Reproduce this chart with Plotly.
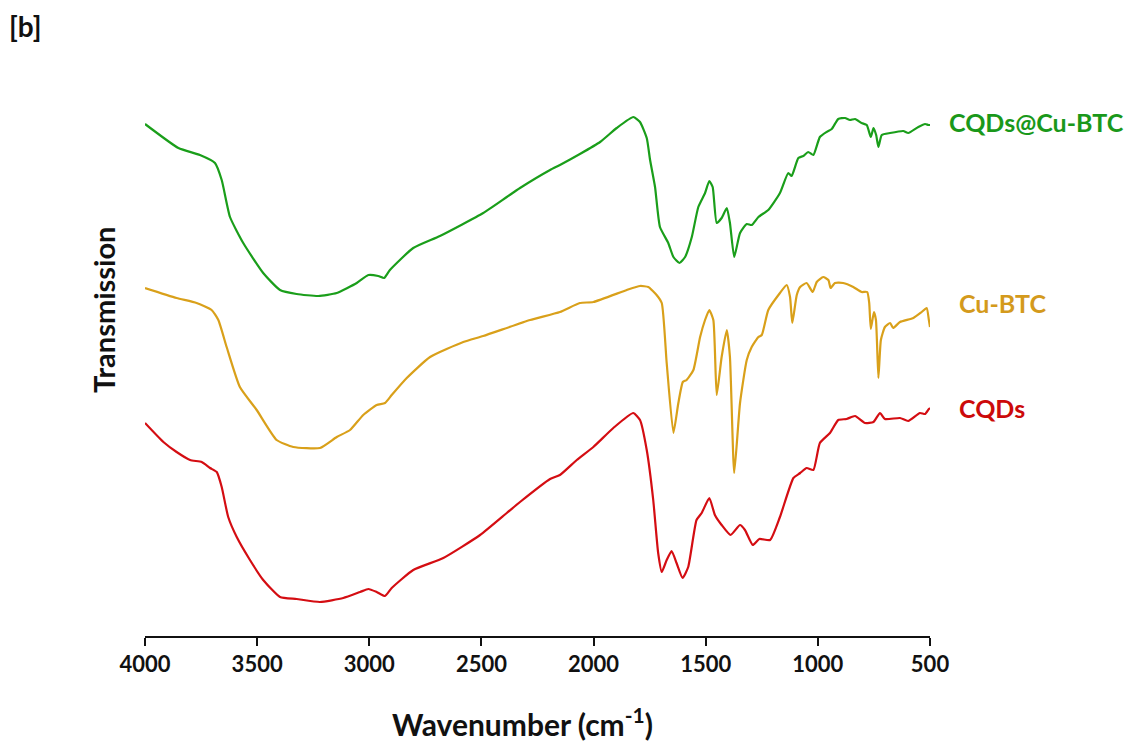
import plotly.graph_objects as go

# FTIR spectra (offset-stacked transmission, arbitrary units)
wn_composite = [4000, 3851, 3755, 3688, 3658, 3621, 3562, 3473, 3398, 3324, 3227, 3145, 3056, 3004,
                2960, 2934, 2908, 2804, 2685, 2492, 2387, 2328, 2194, 2150, 2061, 1971, 1897, 1823,
                1793, 1763, 1748, 1726, 1704, 1667, 1644, 1617, 1592, 1562, 1533, 1503, 1484, 1469,
                1451, 1429, 1406, 1392, 1373, 1347, 1317, 1295, 1265, 1221, 1169, 1132, 1117, 1087,
                1065, 1043, 1020, 991, 961, 938, 909, 879, 857, 834, 805, 782, 764, 752, 740, 730,
                715, 678, 619, 597, 552, 522, 507, 500]
t_composite = [102.4, 97.6, 96.2, 94.6, 91.2, 83.8, 78.6, 72.6, 69.2, 68.4, 68.0, 68.6, 70.6, 72.2,
               72.0, 71.6, 73.2, 77.6, 80.0, 84.6, 87.8, 89.6, 93.2, 94.2, 96.4, 98.8, 101.6, 103.8,
               102.8, 99.6, 95.2, 89.8, 81.8, 78.6, 75.8, 74.6, 75.8, 79.8, 85.8, 88.6, 91.0, 89.8,
               82.6, 83.6, 85.6, 82.6, 75.8, 80.6, 82.4, 82.2, 83.8, 85.2, 88.6, 92.6, 92.0, 95.6,
               96.0, 96.8, 96.2, 99.8, 100.8, 101.4, 103.4, 103.6, 103.2, 103.4, 102.6, 102.2, 99.8,
               101.6, 100.2, 97.8, 100.2, 100.6, 101.0, 100.6, 101.8, 102.4, 102.2, 102.2]

wn_cubtc = [4000, 3859, 3770, 3703, 3673, 3636, 3577, 3502, 3413, 3339, 3220, 3145, 3086, 3027,
            2967, 2930, 2900, 2833, 2729, 2581, 2492, 2283, 2150, 2061, 2001, 1852, 1793, 1756,
            1719, 1696, 1674, 1644, 1622, 1602, 1585, 1555, 1525, 1503, 1484, 1466, 1451, 1429,
            1406, 1392, 1373, 1347, 1317, 1295, 1265, 1250, 1221, 1169, 1139, 1124, 1114, 1094,
            1079, 1050, 1023, 1005, 976, 953, 943, 924, 887, 842, 805, 780, 771, 764, 750, 741,
            730, 719, 701, 678, 664, 634, 574, 537, 515, 505, 500]
t_cubtc = [69.6, 67.6, 66.6, 65.2, 63.2, 57.8, 49.8, 45.2, 39.2, 37.8, 37.6, 39.8, 41.2, 44.2,
           46.2, 46.6, 48.2, 51.6, 55.8, 58.8, 60.0, 63.2, 64.8, 66.6, 66.8, 69.2, 70.0, 69.8,
           68.2, 66.6, 54.6, 40.6, 46.6, 50.8, 51.2, 53.2, 59.8, 63.2, 65.2, 63.2, 48.2, 55.8,
           61.2, 55.8, 32.6, 46.6, 55.2, 57.8, 59.8, 60.2, 65.2, 68.6, 70.2, 67.8, 62.6, 68.2,
           69.8, 70.6, 68.8, 70.8, 71.8, 71.2, 69.6, 70.6, 70.6, 69.8, 68.8, 68.8, 66.6, 61.4,
           64.8, 63.2, 51.6, 59.2, 61.8, 62.6, 61.6, 62.8, 63.6, 64.8, 65.6, 63.2, 61.8]

wn_cqds = [4000, 3918, 3859, 3799, 3747, 3710, 3680, 3658, 3629, 3591, 3532, 3473, 3398, 3324,
           3220, 3116, 3041, 3004, 2967, 2930, 2900, 2804, 2670, 2506, 2387, 2328, 2194, 2150,
           2075, 2001, 1912, 1823, 1793, 1763, 1734, 1712, 1696, 1674, 1652, 1630, 1603, 1578,
           1541, 1518, 1484, 1459, 1429, 1389, 1347, 1325, 1290, 1261, 1213, 1169, 1109, 1079,
           1050, 1020, 991, 946, 909, 872, 834, 790, 752, 723, 701, 634, 597, 545, 522, 505, 500]
t_cqds = [42.6, 38.8, 36.8, 35.2, 34.8, 33.6, 32.8, 29.8, 23.8, 19.8, 15.2, 11.2, 7.8, 7.4,
          6.8, 7.6, 8.8, 9.4, 8.8, 8.0, 9.6, 13.2, 15.6, 20.2, 24.6, 26.8, 31.4, 32.2,
          35.2, 37.8, 41.6, 44.6, 43.2, 37.2, 27.2, 16.6, 12.8, 15.2, 17.0, 14.6, 11.6, 13.8,
          23.2, 24.6, 27.6, 24.2, 22.2, 20.2, 22.2, 21.2, 18.2, 19.4, 19.2, 23.8, 31.6, 32.6,
          33.6, 33.2, 38.6, 40.6, 43.2, 43.4, 44.0, 42.6, 42.8, 44.6, 43.4, 43.6, 43.0, 44.6,
          44.4, 45.4, 45.6]

series_names = ["CQDs@Cu-BTC", "Cu-BTC", "CQDs"]
line_colors = ["#1A9E1A", "#D9A01A", "#D40D12"]
label_colors = ["#1A981A", "#D49A1C", "#CC0A0A"]
label_y = [0.952, 0.617, 0.422]
label_x = [1.022, 1.034, 1.034]

x_ticks = [4000, 3500, 3000, 2500, 2000, 1500, 1000, 500]

FONT = "Lato, 'Open Sans', sans-serif"
INK = "#111111"

fig = go.Figure()
for wn, t, name, c in zip([wn_composite, wn_cubtc, wn_cqds],
                          [t_composite, t_cubtc, t_cqds], series_names, line_colors):
    fig.add_trace(go.Scatter(x=wn, y=t, mode="lines", name=name,
                             line=dict(color=c, width=2.2, shape="spline", smoothing=0.5),
                             showlegend=False))

annotations = []
for name, c, xx, yy in zip(series_names, label_colors, label_x, label_y):
    annotations.append(dict(text=f"<b>{name}</b>", x=xx, y=yy, xref="paper", yref="paper",
                            xanchor="left", yanchor="middle", showarrow=False,
                            font=dict(family=FONT, size=25, color=c)))

# axis titles and panel tag
annotations.append(dict(text="<b>Wavenumber (cm<sup>-1</sup>)</b>", x=0.4815, y=-0.16,
                        xref="paper", yref="paper", xanchor="center", yanchor="middle",
                        showarrow=False, font=dict(family=FONT, size=30, color=INK)))
annotations.append(dict(text="<b>Transmission</b>", x=-0.052, y=0.604, xref="paper",
                        yref="paper", xanchor="center", yanchor="middle", textangle=-90,
                        showarrow=False, font=dict(family=FONT, size=29, color=INK)))
annotations.append(dict(text="<b>[b]</b>", x=-0.176, y=1.13, xref="paper", yref="paper",
                        xanchor="left", yanchor="middle", showarrow=False,
                        font=dict(family=FONT, size=28, color=INK)))

fig.update_layout(
    width=1140, height=746,
    margin=dict(l=145, r=210, t=96, b=110),
    paper_bgcolor="white", plot_bgcolor="white",
    annotations=annotations,
    xaxis=dict(range=[4000, 500], tickvals=x_ticks, ticktext=[str(v) for v in x_ticks],
               showgrid=False, zeroline=False, showline=True, linecolor=INK,
               linewidth=2, ticks="outside", ticklen=8, tickwidth=2, tickcolor=INK,
               tickfont=dict(family=FONT, size=22, color=INK, weight="bold")),
    yaxis=dict(range=[0, 108], showgrid=False, zeroline=False, showline=False,
               showticklabels=False, ticks=""),
)

fig.write_html("out.html")
